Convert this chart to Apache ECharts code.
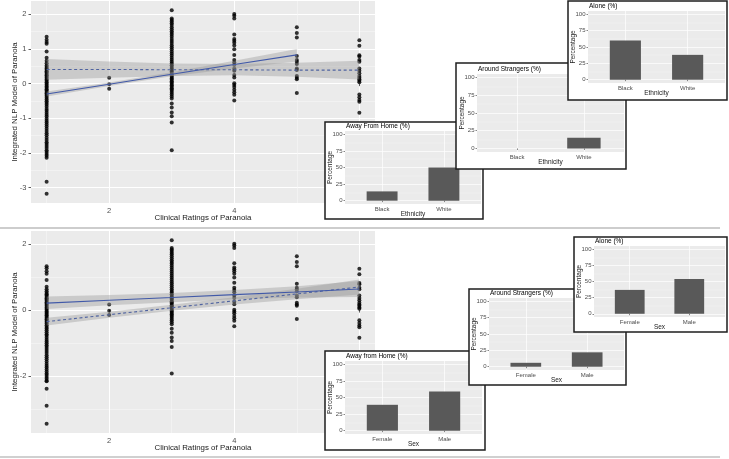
<!DOCTYPE html>
<html><head><meta charset="utf-8">
<script src="https://cdn.jsdelivr.net/npm/echarts@6/dist/echarts.min.js"></script>
<style>html,body{margin:0;padding:0;background:#fff}#c{width:729px;height:459px}</style>
</head><body><div id="c"></div>
<script>
// ---------------- DATA ----------------
// Scatter: Integrated NLP model score per clinical paranoia rating (columns x = 1..6)
const col1Shared = [0.52,0.48,0.44,0.40,0.36,0.32,0.28,0.24,0.20,0.16,0.12,0.08,0.04,0.00,-0.04,-0.08,-0.12,-0.16,-0.20,-0.24,-0.28,-0.32,-0.36,-0.41,-0.46,-0.51,-0.56,-0.61,-0.67,-0.73,-0.78,-0.84,-0.90,-0.95,-1.01,-1.07,-1.12,-1.18,-1.24,-1.30,-1.37,-1.43,-1.49,-1.56,-1.63,-1.69,-1.74,-1.80,-1.86,-1.92,-1.97,-2.03,-2.08,-2.14];
const col1TopExtra = [1.35,1.27,1.20,1.15,0.93,0.75,0.66,0.59,-2.83,-3.18];
const col1BottomExtra = [1.33,1.27,1.18,1.10,0.91,0.71,0.63,0.57,-2.16,-2.39,-2.90,-3.45];
const col2 = [0.17,-0.02,-0.15];
const col3 = [2.12,1.88,1.84,1.79,1.74,1.69,1.63,1.57,1.51,1.46,1.41,1.35,1.29,1.23,1.17,1.11,1.05,0.99,0.93,0.87,0.81,0.75,0.69,0.63,0.58,0.53,0.48,0.43,0.39,0.35,0.31,0.27,0.23,0.19,0.15,0.11,0.07,0.03,-0.01,-0.05,-0.09,-0.13,-0.17,-0.21,-0.26,-0.31,-0.37,-0.43,-0.57,-0.69,-0.83,-0.94,-1.12,-1.92];
const col4 = [2.01,1.96,1.88,1.42,1.29,1.24,1.18,1.10,0.99,0.83,0.68,0.61,0.54,0.44,0.37,0.25,0.18,0.01,-0.04,-0.10,-0.18,-0.25,-0.32,-0.49];
const col5 = [1.63,1.46,1.33,0.80,0.68,0.63,0.57,0.44,0.39,0.22,0.17,0.13,-0.27];
const col6 = [1.25,1.09,0.82,0.78,0.68,0.63,0.44,0.37,0.30,0.22,0.17,0.13,0.08,0.04,-0.31,-0.39,-0.47,-0.52,-0.84];

// Linear fits with confidence bands (top: by ethnicity, bottom: by sex)
const topSolidX = [1,2,3,4,5];
const topSolidFit = [-0.30,-0.02,0.27,0.55,0.83];
const topSolidLo = [-0.37,-0.07,0.21,0.44,0.64];
const topSolidHi = [-0.23,0.03,0.33,0.66,1.00];
const topDashX = [1,2,3,4,5,6];
const topDashFit = [0.41,0.41,0.40,0.40,0.39,0.39];
const topDashLo = [0.11,0.17,0.22,0.24,0.20,0.12];
const topDashHi = [0.71,0.64,0.58,0.57,0.60,0.66];
const botSolidX = [1,2,3,4,5,6];
const botSolidFit = [0.21,0.30,0.38,0.47,0.55,0.64];
const botSolidLo = [0.03,0.15,0.24,0.33,0.38,0.40];
const botSolidHi = [0.41,0.46,0.52,0.61,0.72,0.88];
const botDashX = [1,2,3,4,5,6];
const botDashFit = [-0.35,-0.14,0.07,0.28,0.49,0.70];
const botDashLo = [-0.47,-0.23,-0.02,0.17,0.33,0.47];
const botDashHi = [-0.23,-0.05,0.16,0.39,0.65,0.93];

// Tick labels
const xTickValues = [2,4,6];
const xMinorValues = [1,3,5];
const topYTicks = [-3,-2,-1,0,1,2];
const topYMinor = [-2.5,-1.5,-0.5,0.5,1.5];
const botYTicks = [-2,0,2];
const botYMinor = [-3,-1,1];
const pctTicks = [0,25,50,75,100];
const pctMinor = [12.5,37.5,62.5,87.5];

// Inset bar charts (percentages)
const ethnicity = ['Black','White'];
const sexes = ['Female','Male'];
const ethAway = [14,50];
const ethStrangers = [0,15];
const ethAlone = [60,38];
const sexAway = [39,59];
const sexStrangers = [6,22];
const sexAlone = [37,54];

// ---------------- LAYOUT / STYLE ----------------
const FONT = '"Liberation Sans", Arial, Helvetica, sans-serif';
const BG = '#EBEBEB';
const LINE_COL = '#4159A8';
const DASH_COL = '#4F63A0';
const RIBBON = 'rgba(153,153,153,0.4)';

const option = {animation:false, backgroundColor:'#fff', grid:[], xAxis:[], yAxis:[], series:[], title:[], graphic:[]};

function padRange(vals){
  let mn=Infinity,mx=-Infinity;
  vals.forEach(v=>{if(v<mn)mn=v;if(v>mx)mx=v;});
  const p=(mx-mn)*0.05; return [mn-p,mx+p];
}

function ribbonSeries(xi, yi, xs, lo, hi, z){
  return {type:'custom', xAxisIndex:xi, yAxisIndex:yi, z:z, silent:true,
    data: xs.map((x,i)=>[x,lo[i],hi[i]]),
    encode:{x:0,y:[1,2]},
    renderItem:function(params, api){
      if(params.dataIndex!==0) return null;
      const pts=[];
      for(let i=0;i<xs.length;i++) pts.push(api.coord([xs[i],hi[i]]));
      for(let i=xs.length-1;i>=0;i--) pts.push(api.coord([xs[i],lo[i]]));
      return {type:'polygon', shape:{points:pts}, style:{fill:RIBBON}};
    }};
}

function mainPanel(g, col1, yTicks, yMinor, fits){
  const gi = option.grid.length;
  const allY = col1.concat(col2,col3,col4,col5,col6);
  const yr = padRange(allY);
  option.grid.push({left:g.x, top:g.y, width:g.w, height:g.h, show:true, backgroundColor:BG, borderWidth:0, z:0, outerBoundsMode:'none', containLabel:false});
  const xi = option.xAxis.length;
  const nameStyle = {fontSize:7.9, color:'#1a1a1a', fontFamily:FONT};
  option.xAxis.push({gridIndex:gi, type:'value', min:0.75, max:6.25, z:1,
    axisLine:{show:false},
    axisTick:{show:true, length:2.5, customValues:xTickValues, lineStyle:{color:'#333', width:0.8}},
    axisLabel:{customValues:xTickValues, fontSize:7.5, color:'#4D4D4D', margin:3.5, fontFamily:FONT},
    splitLine:{show:true, lineStyle:{color:'#fff', width:1}},
    name:'Clinical Ratings of Paranoia', nameLocation:'middle', nameGap:11, nameMoveOverlap:false, nameTextStyle:nameStyle});
  option.xAxis.push({gridIndex:gi, type:'value', min:0.75, max:6.25, z:1,
    axisLine:{show:false}, axisTick:{show:false, customValues:xMinorValues},
    axisLabel:{show:false, customValues:xMinorValues},
    splitLine:{show:true, lineStyle:{color:'#F6F6F6', width:0.6}}});
  const yi = option.yAxis.length;
  option.yAxis.push({gridIndex:gi, type:'value', min:yr[0], max:yr[1], z:1,
    axisLine:{show:false},
    axisTick:{show:true, length:2.5, customValues:yTicks, lineStyle:{color:'#333', width:0.8}},
    axisLabel:{customValues:yTicks, fontSize:7.5, color:'#4D4D4D', margin:4.5, fontFamily:FONT},
    splitLine:{show:true, lineStyle:{color:'#fff', width:1}},
    name:'Integrated NLP Model of Paranoia', nameLocation:'middle', nameGap:12, nameRotate:90, nameMoveOverlap:false, nameTextStyle:nameStyle});
  option.yAxis.push({gridIndex:gi, type:'value', min:yr[0], max:yr[1], z:1,
    axisLine:{show:false}, axisTick:{show:false, customValues:yMinor},
    axisLabel:{show:false, customValues:yMinor},
    splitLine:{show:true, lineStyle:{color:'#F6F6F6', width:0.6}}});
  const pts = [].concat(col1.map(v=>[1,v]), col2.map(v=>[2,v]), col3.map(v=>[3,v]), col4.map(v=>[4,v]), col5.map(v=>[5,v]), col6.map(v=>[6,v]));
  option.series.push({type:'scatter', xAxisIndex:xi, yAxisIndex:yi, data:pts, symbolSize:4, itemStyle:{color:'#000'}, z:2, silent:true});
  fits.forEach(f=>{
    option.series.push(ribbonSeries(xi, yi, f.x, f.lo, f.hi, 3));
  });
  fits.forEach(f=>{
    option.series.push({type:'line', xAxisIndex:xi, yAxisIndex:yi, data:f.x.map((x,i)=>[x,f.fit[i]]), showSymbol:false, symbol:'none', z:4, silent:true,
      lineStyle:{color: f.dashed ? DASH_COL : LINE_COL, width:1.1, type: f.dashed ? [3,2.5] : 'solid'}});
  });
}

function inset(s, cats, vals, titleText, xName, zBase){
  const gi = option.grid.length;
  const [px,py,pw,ph] = s.plot;
  option.graphic.push({type:'rect', z:zBase, silent:true, shape:{x:s.box[0], y:s.box[1], width:s.box[2], height:s.box[3]}, style:{fill:'#fff', stroke:'#1e1e1e', lineWidth:1.5}});
  option.grid.push({left:px, top:py, width:pw, height:ph, show:true, backgroundColor:BG, borderWidth:0, z:zBase+1, outerBoundsMode:'none', containLabel:false});
  const small = {fontSize:6, color:'#4D4D4D', fontFamily:FONT};
  const nameSt = {fontSize:6.5, color:'#1a1a1a', fontFamily:FONT};
  const xi = option.xAxis.length;
  option.xAxis.push({gridIndex:gi, type:'value', min:0.4, max:2.6, z:zBase+2,
    axisLine:{show:false},
    axisTick:{show:true, length:1.5, customValues:[1,2], lineStyle:{color:'#333', width:0.6}},
    axisLabel:Object.assign({customValues:[1,2], margin:2, formatter:v=>cats[Math.round(v)-1]}, small),
    splitLine:{show:true, lineStyle:{color:'#fff', width:0.7}},
    name:xName, nameLocation:'middle', nameGap:7, nameMoveOverlap:false, nameTextStyle:nameSt});
  const yi = option.yAxis.length;
  option.yAxis.push({gridIndex:gi, type:'value', min:-5, max:105, z:zBase+2,
    axisLine:{show:false},
    axisTick:{show:true, length:1.5, customValues:pctTicks, lineStyle:{color:'#333', width:0.6}},
    axisLabel:Object.assign({customValues:pctTicks, margin:2.5}, small),
    splitLine:{show:true, lineStyle:{color:'#fff', width:0.7}},
    name:'Percentage', nameLocation:'middle', nameGap:11, nameRotate:90, nameMoveOverlap:false, nameTextStyle:nameSt});
  option.yAxis.push({gridIndex:gi, type:'value', min:-5, max:105, z:zBase+2,
    axisLine:{show:false}, axisTick:{show:false, customValues:pctMinor},
    axisLabel:{show:false, customValues:pctMinor},
    splitLine:{show:true, lineStyle:{color:'#F4F4F4', width:0.4}}});
  option.series.push({type:'bar', xAxisIndex:xi, yAxisIndex:yi, z:zBase+3, silent:true,
    data: vals.map((v,i)=>[i+1,v]), barWidth: 0.5*pw/2.2, itemStyle:{color:'#595959'}});
  option.title.push({text:titleText, left:px+1, top:py-9, padding:0, z:zBase+4,
    textStyle:{fontSize:6.5, fontWeight:'normal', color:'#000', fontFamily:FONT, lineHeight:8}});
}

// main panels
mainPanel({x:31,y:1,w:344,h:202}, col1Shared.concat(col1TopExtra), topYTicks, topYMinor, [
  {x:topDashX, fit:topDashFit, lo:topDashLo, hi:topDashHi, dashed:true},
  {x:topSolidX, fit:topSolidFit, lo:topSolidLo, hi:topSolidHi, dashed:false}]);
mainPanel({x:31,y:231,w:344,h:202}, col1Shared.concat(col1BottomExtra), botYTicks, botYMinor, [
  {x:botDashX, fit:botDashFit, lo:botDashLo, hi:botDashHi, dashed:true},
  {x:botSolidX, fit:botSolidFit, lo:botSolidLo, hi:botSolidHi, dashed:false}]);

// separator lines
option.graphic.push({type:'line', z:5, silent:true, shape:{x1:0,y1:228,x2:720,y2:228}, style:{stroke:'#BDBDBD', lineWidth:1.5}});
option.graphic.push({type:'line', z:5, silent:true, shape:{x1:0,y1:457,x2:720,y2:457}, style:{stroke:'#D0D0D0', lineWidth:2}});

// insets (top: ethnicity, bottom: sex)
inset({box:[325,122,158,97], plot:[345,131,136,73]}, ethnicity, ethAway, 'Away From Home (%)', 'Ethnicity', 10);
inset({box:[456,63,170,106], plot:[477,74,147,78]}, ethnicity, ethStrangers, 'Around Strangers (%)', 'Ethnicity', 20);
inset({box:[568,1,159,99], plot:[588,11,137,72]}, ethnicity, ethAlone, 'Alone (%)', 'Ethnicity', 30);
inset({box:[325,351,160,99], plot:[345,361,137,73]}, sexes, sexAway, 'Away from Home (%)', 'Sex', 10);
inset({box:[469,289,157,96], plot:[489,298,135,72]}, sexes, sexStrangers, 'Around Strangers (%)', 'Sex', 20);
inset({box:[574,237,153,95], plot:[594,246,131,71]}, sexes, sexAlone, 'Alone (%)', 'Sex', 30);

const chart = echarts.init(document.getElementById('c'), null, {renderer:'canvas'});
chart.setOption(option);
</script>
</body></html>
